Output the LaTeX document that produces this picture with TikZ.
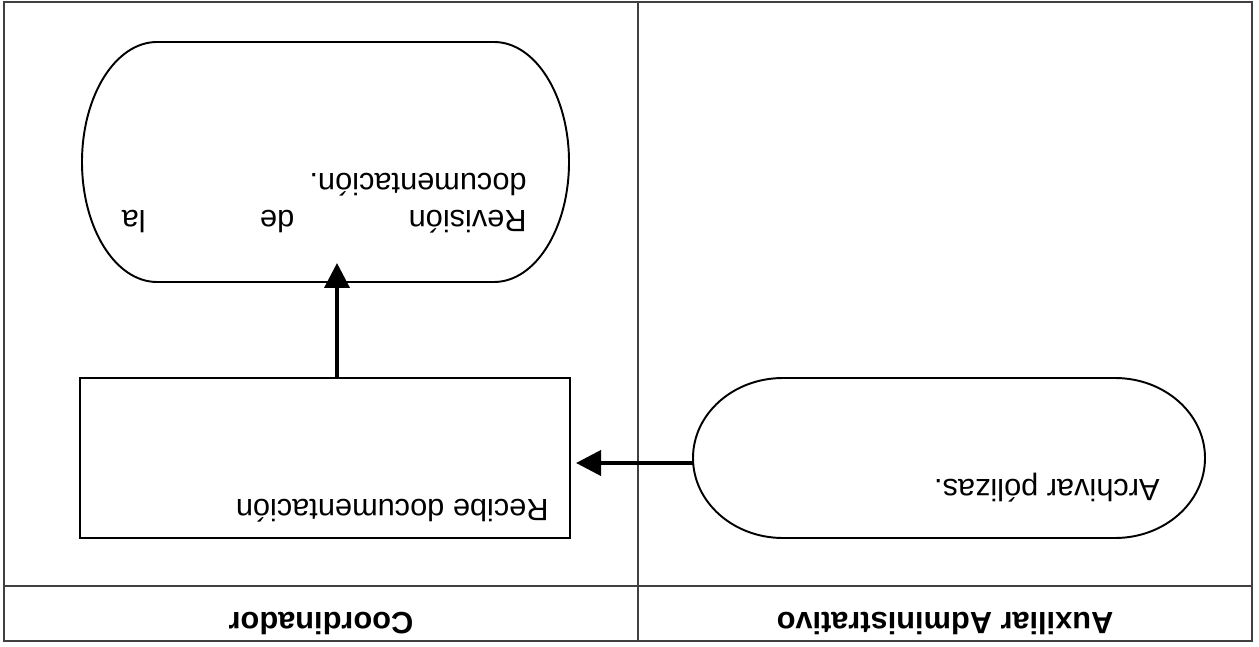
\documentclass[tikz,border=0pt]{standalone}
\usepackage{fontspec}
\setmainfont{Liberation Sans}
\usepackage{tikz}
\usetikzlibrary{arrows.meta,calc}
\tikzset{
  frame/.style={draw=black!75,line width=0.8pt},
  edge/.style={draw=black,line width=1.1pt},
  procbox/.style={edge,minimum width=9.8cm,minimum height=3.2cm,outer sep=0pt},
  termbox/.style={minimum width=#1,minimum height=3.2cm,outer sep=0pt},
  txt/.style={font=\fontsize{17.5}{20.5}\selectfont,inner sep=0pt,rotate=180,anchor=north west,align=left},
  head/.style={txt,font=\fontsize{17.5}{20.5}\selectfont\bfseries,anchor=center},
  flow/.style={-{Triangle[length=0.5cm,width=0.5cm]},line width=2.2pt},
}
% terminal outline with elliptic ends: node, x radius, y radius
\newcommand{\capsule}[3]{%
  \draw[edge] ($(#1.north west)+(#2,0)$) -- ($(#1.north east)-(#2,0)$)
    arc[start angle=90,end angle=-90,x radius=#2,y radius=#3]
    -- ($(#1.south west)+(#2,0)$)
    arc[start angle=270,end angle=90,x radius=#2,y radius=#3] -- cycle;}
\begin{document}
\begin{tikzpicture}
  \useasboundingbox (0,0) rectangle (25.18,-12.94);
  % swimlanes (upside down)
  \draw[frame] (0.08,-0.04) rectangle (25.04,-12.82);
  \draw[frame] (12.76,-0.04) -- (12.76,-12.82);
  \draw[frame] (0.08,-11.72) -- (25.04,-11.72);
  \node[head] (coord) at (6.42,-12.46) {Coordinador};
  \node[head] (aux) at (18.9,-12.46) {Auxiliar Administrativo};
  % shapes
  \node[termbox=9.74cm,minimum height=4.8cm] (rev) at (6.51,-3.24) {};
  \capsule{rev}{1.5cm}{2.4cm}
  \node[procbox] (rec) at (6.5,-9.16) {};
  \node[termbox=10.24cm] (arch) at (18.98,-9.16) {};
  \capsule{arch}{1.8cm}{1.6cm}
  % texts
  \node[txt,text width=8.1cm] (revtxt) at (10.54,-4.66) {Revisión\hfill de\hfill la\\documentación.};
  \node[txt] (rectxt) at (10.98,-10.45) {Recibe documentación};
  \node[txt] (archtxt) at (23.2,-10.05) {Archivar pólizas.};
  % connectors
  \coordinate (vx) at (6.74,0);
  \coordinate (hy) at (0,-9.26);
  \draw[flow,shorten >=0.12cm] (arch.west |- hy) -- (rec.east |- hy);
  \draw[flow,shorten >=-0.38cm] (rec.north -| vx) -- (rev.south -| vx);
\end{tikzpicture}
\end{document}
